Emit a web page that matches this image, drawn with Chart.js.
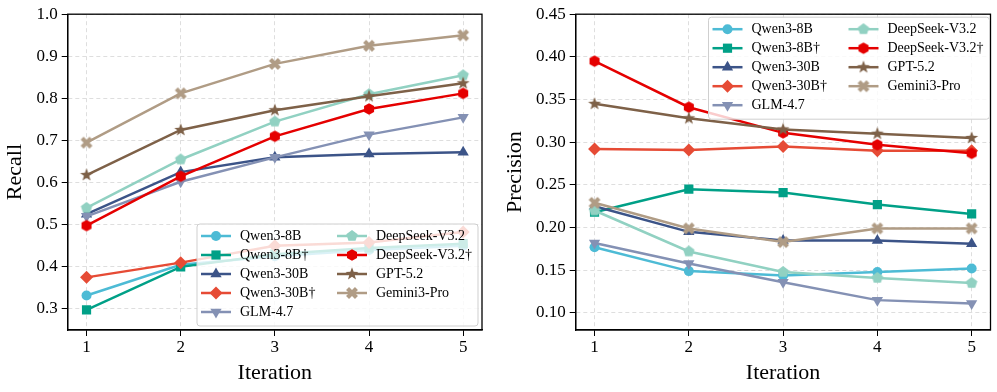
<!DOCTYPE html>
<html>
<head>
<meta charset="utf-8">
<script src="https://cdn.jsdelivr.net/npm/chart.js@4.4.1/dist/chart.umd.min.js"></script>
<style>
  html, body { margin: 0; padding: 0; background: #fff; }
  #wrap { position: relative; width: 997px; height: 392px; }
  #cRecall { position: absolute; left: 0; top: 0; }
  #cPrecision { position: absolute; left: 497px; top: 0; }
</style>
</head>
<body>
<div id="wrap">
  <canvas id="cRecall" width="497" height="392"></canvas>
  <canvas id="cPrecision" width="500" height="392"></canvas>
</div>
<script>
// Datos
const iterations = [1, 2, 3, 4, 5];
const modelNames = ['Qwen3-8B', 'Qwen3-8B†', 'Qwen3-30B', 'Qwen3-30B†', 'GLM-4.7',
                    'DeepSeek-V3.2', 'DeepSeek-V3.2†', 'GPT-5.2', 'Gemini3-Pro'];

const recallQwen8B      = [0.332, 0.405, 0.425, 0.440, 0.450];
const recallQwen8BDag   = [0.298, 0.400, 0.430, 0.445, 0.455];
const recallQwen30B     = [0.525, 0.625, 0.660, 0.668, 0.672];
const recallQwen30BDag  = [0.375, 0.410, 0.450, 0.458, 0.483];
const recallGLM         = [0.520, 0.602, 0.660, 0.714, 0.755];
const recallDeepSeek    = [0.540, 0.655, 0.745, 0.810, 0.855];
const recallDeepSeekDag = [0.498, 0.615, 0.710, 0.775, 0.812];
const recallGPT         = [0.618, 0.725, 0.772, 0.805, 0.836];
const recallGemini      = [0.695, 0.812, 0.882, 0.925, 0.950];

const precQwen8B      = [0.177, 0.149, 0.144, 0.148, 0.152];
const precQwen8BDag   = [0.218, 0.245, 0.241, 0.227, 0.216];
const precQwen30B     = [0.225, 0.195, 0.185, 0.185, 0.181];
const precQwen30BDag  = [0.292, 0.291, 0.295, 0.290, 0.290];
const precGLM         = [0.182, 0.158, 0.136, 0.115, 0.111];
const precDeepSeek    = [0.220, 0.172, 0.148, 0.141, 0.135];
const precDeepSeekDag = [0.395, 0.341, 0.311, 0.297, 0.287];
const precGPT         = [0.345, 0.328, 0.315, 0.310, 0.305];
const precGemini      = [0.229, 0.199, 0.183, 0.199, 0.199];

const recallTicks = [0.3, 0.4, 0.5, 0.6, 0.7, 0.8, 0.9, 1.0];
const precTicks = [0.10, 0.15, 0.20, 0.25, 0.30, 0.35, 0.40, 0.45];

const colores = ['#4DBBD5', '#00A087', '#3C5488', '#E64B35', '#8491B4',
                 '#91D1C2', '#E50000', '#7E6148', '#B09C85'];

// Marcadores que Chart.js no trae (pentágono, hexágono, estrella, X rellena)
function makeMarker(kind, color) {
  const s = 18, c = s / 2;
  const cv = document.createElement('canvas');
  cv.width = s; cv.height = s;
  const g = cv.getContext('2d');
  let pts = [];
  if (kind === 'pentagon') {
    for (let k = 0; k < 5; k++) {
      const a = (-90 + 72 * k) * Math.PI / 180;
      pts.push([c + 6 * Math.cos(a), c + 6 * Math.sin(a)]);
    }
  } else if (kind === 'hexagon') {
    for (let k = 0; k < 6; k++) {
      const a = (-90 + 60 * k) * Math.PI / 180;
      pts.push([c + 5.8 * Math.cos(a), c + 5.8 * Math.sin(a)]);
    }
  } else if (kind === 'star') {
    for (let k = 0; k < 10; k++) {
      const a = (-90 + 36 * k) * Math.PI / 180;
      const r = k % 2 === 0 ? 6.8 : 2.8;
      pts.push([c + r * Math.cos(a), c + r * Math.sin(a)]);
    }
  } else if (kind === 'xfill') {
    const t = 1 / 3;
    const base = [[-t, 1], [t, 1], [t, t], [1, t], [1, -t], [t, -t],
                  [t, -1], [-t, -1], [-t, -t], [-1, -t], [-1, t], [-t, t]];
    const cs = Math.SQRT1_2;
    base.forEach(([x, y]) => {
      const rx = (x * cs - y * cs) * 6.3, ry = (x * cs + y * cs) * 6.3;
      pts.push([c + rx, c + ry]);
    });
  }
  g.beginPath();
  pts.forEach(([x, y], i) => i ? g.lineTo(x, y) : g.moveTo(x, y));
  g.closePath();
  g.fillStyle = color;
  g.fill();
  return cv;
}

const estilos = [
  { pointStyle: 'circle', radius: 5, rotation: 0 },
  { pointStyle: 'rect', radius: 6.5, rotation: 0 },
  { pointStyle: 'triangle', radius: 6.5, rotation: 0 },
  { pointStyle: 'rectRot', radius: 6.5, rotation: 0 },
  { pointStyle: 'triangle', radius: 6.5, rotation: 180 },
  { pointStyle: makeMarker('pentagon', colores[5]), radius: 6, rotation: 0 },
  { pointStyle: makeMarker('hexagon', colores[6]), radius: 6, rotation: 0 },
  { pointStyle: makeMarker('star', colores[7]), radius: 6, rotation: 0 },
  { pointStyle: makeMarker('xfill', colores[8]), radius: 6, rotation: 0 }
];

function buildDatasets(series) {
  return series.map((vals, i) => ({
    label: modelNames[i],
    data: iterations.map((x, j) => ({ x: x, y: vals[j] })),
    borderColor: colores[i],
    backgroundColor: colores[i],
    borderWidth: 2.5,
    pointStyle: estilos[i].pointStyle,
    pointRadius: estilos[i].radius,
    pointRotation: estilos[i].rotation,
    pointBorderWidth: 0,
    pointHoverRadius: estilos[i].radius,
    tension: 0,
    order: series.length - i
  }));
}

// Marco negro y leyenda dentro del área de trazado
const marcoYLeyenda = {
  id: 'marcoYLeyenda',
  afterDatasetsDraw(chart, args, opts) {
    const ctx = chart.ctx, a = chart.chartArea;
    ctx.save();
    ctx.strokeStyle = '#000';
    ctx.lineWidth = 1.3;
    ctx.strokeRect(a.left, a.top, a.right - a.left, a.bottom - a.top);

    const w = 281, h = 102;
    const x0 = a.right - opts.dx - w;
    const y0 = opts.corner === 'br' ? a.bottom - opts.dy - h : a.top + opts.dy;
    ctx.beginPath();
    ctx.roundRect(x0, y0, w, h, 3);
    ctx.fillStyle = 'rgba(255,255,255,0.8)';
    ctx.fill();
    ctx.strokeStyle = '#cfcfcf';
    ctx.lineWidth = 1;
    ctx.stroke();

    ctx.font = '14px "Liberation Serif", "Times New Roman", serif';
    ctx.textBaseline = 'middle';
    ctx.textAlign = 'left';
    chart.data.datasets.forEach((ds, i) => {
      const col = i < 5 ? 0 : 1, row = i < 5 ? i : i - 5;
      const hx = x0 + (col ? 140 : 4), hy = y0 + 12 + row * 19;
      ctx.strokeStyle = ds.borderColor;
      ctx.lineWidth = 2.5;
      ctx.beginPath();
      ctx.moveTo(hx, hy);
      ctx.lineTo(hx + 30, hy);
      ctx.stroke();
      ctx.fillStyle = ds.backgroundColor;
      Chart.helpers.drawPoint(ctx, {
        pointStyle: ds.pointStyle, radius: ds.pointRadius,
        rotation: ds.pointRotation, borderWidth: 0
      }, hx + 15, hy);
      ctx.fillStyle = '#000';
      ctx.fillText(ds.label, hx + 39, hy + 0.5);
    });
    ctx.restore();
  }
};

const serif = '"Liberation Serif", "Times New Roman", serif';

function opcionesEjes(yMin, yMax, yTicks, yTitle, decimals, legendOpts, yWidth, yTitlePad, padRight) {
  return {
    responsive: false,
    animation: false,
    layout: { padding: { left: 0, right: padRight, top: 12.7, bottom: 0 } },
    scales: {
      x: {
        type: 'linear',
        min: 0.8, max: 5.2,
        afterBuildTicks: (axis) => { axis.ticks = iterations.map(v => ({ value: v })); },
        afterFit: (axis) => { axis.height = 62; },
        grid: { color: '#dedede', tickColor: '#000', tickLength: 6, tickBorderDash: [], tickWidth: 1 },
        border: { display: true, color: '#000', width: 1.3, dash: [4, 3] },
        ticks: { color: '#000', font: { family: serif, size: 17 }, padding: 1, callback: v => String(v) },
        title: { display: true, text: 'Iteration', color: '#000', font: { family: serif, size: 22 }, padding: { top: 0, bottom: 6 } }
      },
      y: {
        type: 'linear',
        min: yMin, max: yMax,
        afterBuildTicks: (axis) => { axis.ticks = yTicks.map(v => ({ value: v })); },
        afterFit: (axis) => { axis.width = yWidth; },
        grid: { color: '#dedede', tickColor: '#000', tickLength: 6, tickBorderDash: [], tickWidth: 1 },
        border: { display: true, color: '#000', width: 1.3, dash: [4, 3] },
        ticks: { color: '#000', font: { family: serif, size: 17 }, padding: 4, callback: v => Number(v).toFixed(decimals) },
        title: { display: true, text: yTitle, color: '#000', font: { family: serif, size: 22 }, padding: { top: yTitlePad, bottom: 0 } }
      }
    },
    plugins: {
      legend: { display: false },
      tooltip: { enabled: false },
      marcoYLeyenda: legendOpts
    }
  };
}

new Chart(document.getElementById('cRecall'), {
  type: 'line',
  data: {
    datasets: buildDatasets([recallQwen8B, recallQwen8BDag, recallQwen30B, recallQwen30BDag, recallGLM,
                             recallDeepSeek, recallDeepSeekDag, recallGPT, recallGemini])
  },
  options: opcionesEjes(0.25, 1.0, recallTicks, 'Recall', 1,
                        { corner: 'br', dx: 4, dy: 4 }, 67.7, 2.5, 15),
  plugins: [marcoYLeyenda]
});

new Chart(document.getElementById('cPrecision'), {
  type: 'line',
  data: {
    datasets: buildDatasets([precQwen8B, precQwen8BDag, precQwen30B, precQwen30BDag, precGLM,
                             precDeepSeek, precDeepSeekDag, precGPT, precGemini])
  },
  options: opcionesEjes(0.08, 0.45, precTicks, 'Precision', 2,
                        { corner: 'tr', dx: 1, dy: 3 }, 78.7, 4.8, 6),
  plugins: [marcoYLeyenda]
});
</script>
</body>
</html>
